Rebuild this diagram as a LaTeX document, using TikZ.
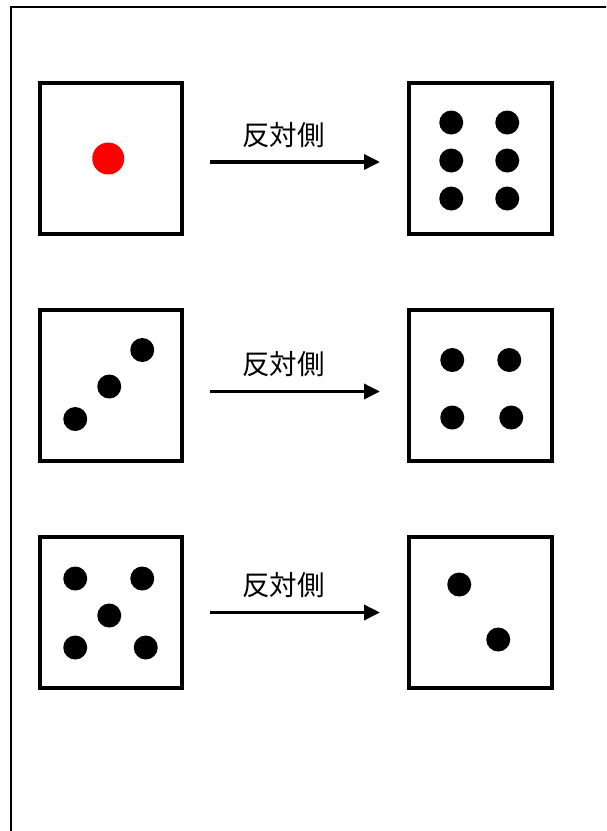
\documentclass[tikz,border=0pt]{standalone}
\usepackage{fontspec}
\newfontfamily\jpfont{Noto Sans CJK JP}
\usetikzlibrary{arrows.meta,positioning}

\begin{document}
\begin{tikzpicture}[
  x=1pt, y=-1pt,
  die/.style={draw, line width=4pt, minimum width=142.5pt, minimum height=151pt, inner sep=0pt},
  pip/.style={circle, fill=black, inner sep=0pt, minimum size=24pt},
  redpip/.style={circle, fill=red, inner sep=0pt, minimum size=32pt},
  oppo/.style={font=\jpfont\fontsize{27.5}{30}\selectfont, inner sep=0pt},
  link/.style={-{Triangle[length=16pt, width=15pt]}, line width=3.5pt}
]
\useasboundingbox (0,0) rectangle (606,831);
\clip (0,0) rectangle (606,831);
\draw[line width=2pt] (11,7) rectangle (650,880);

\node[die] (one) at (110.75,158.5) {};
\node[die, right=223pt of one] (six) {};
\node[die, below=72pt of one] (three) {};
\node[die, right=223pt of three] (four) {};
\node[die, below=72pt of three] (five) {};
\node[die, right=223pt of five] (two) {};

\node[redpip] (one1) at ([shift={(-2.5,0)}]one.center) {};
\foreach \dx/\dy [count=\i] in {-29/-36, 27/-36, -29/2, 27/2, -29/40, 27/40}
  \node[pip] (six\i) at ([shift={(\dx,\dy)}]six.center) {};
\foreach \dx/\dy [count=\i] in {31.5/-35.5, -1.5/1, -35.5/33.5}
  \node[pip] (three\i) at ([shift={(\dx,\dy)}]three.center) {};
\foreach \dx/\dy [count=\i] in {-28/-25.5, 29/-25.5, -28/32, 31/32}
  \node[pip] (four\i) at ([shift={(\dx,\dy)}]four.center) {};
\foreach \dx/\dy [count=\i] in {-35.5/-34, 31.5/-34, -1.5/3, -35.5/35, 35/35}
  \node[pip] (five\i) at ([shift={(\dx,\dy)}]five.center) {};
\foreach \dx/\dy [count=\i] in {-21/-28, 18/27}
  \node[pip] (two\i) at ([shift={(\dx,\dy)}]two.center) {};

\coordinate (s1) at ([xshift=26pt, yshift=-3.5pt]one.east);
\coordinate (t1) at ([xshift=-27pt, yshift=-3.5pt]six.west);
\coordinate (s2) at ([xshift=26pt, yshift=-6pt]three.east);
\coordinate (t2) at ([xshift=-27pt, yshift=-6pt]four.west);
\coordinate (s3) at ([xshift=26pt]five.east);
\coordinate (t3) at ([xshift=-27pt]two.west);
\foreach \i in {1,2,3} {
  \draw[link] (s\i) -- (t\i);
  \node[oppo] (lab\i) at ([shift={(73.5,-27)}]s\i) {反対側};
}
\end{tikzpicture}
\end{document}
